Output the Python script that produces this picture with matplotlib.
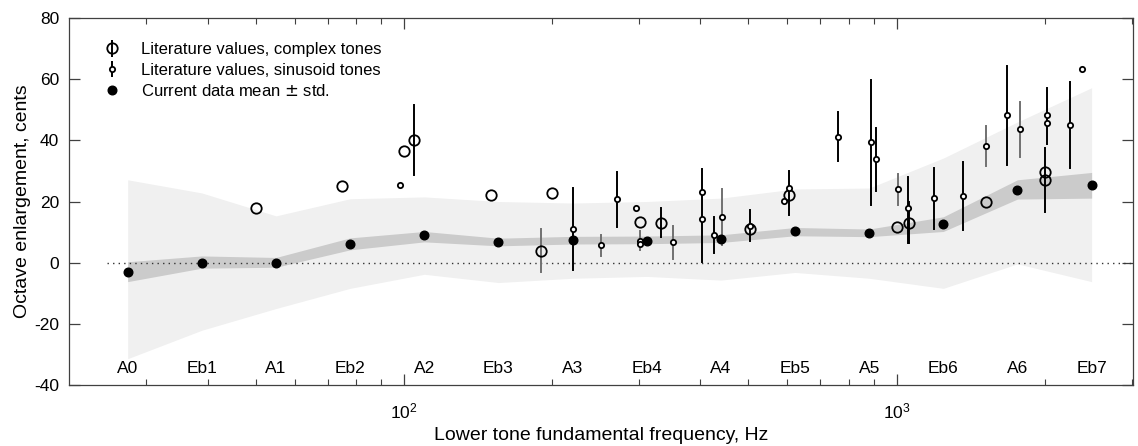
import numpy as np
import matplotlib.pyplot as plt
from matplotlib.ticker import LogLocator, NullFormatter, FixedLocator

plt.rcParams['font.family'] = ['Liberation Sans', 'DejaVu Sans']
plt.rcParams['axes.unicode_minus'] = False

# Note frequencies and current data (mean, std band, wider range band)
notes = ["A0", "Eb1", "A1", "Eb2", "A2", "Eb3", "A3", "Eb4", "A4", "Eb5", "A5", "Eb6", "A6", "Eb7"]
note_freq = [27.5, 38.89, 55.0, 77.78, 110.0, 155.56, 220.0, 311.13, 440.0, 622.25, 880.0, 1244.5, 1760.0, 2489.0]
mean_cents = [-3.0, 0.0, 0.0, 6.1, 9.0, 6.7, 7.4, 7.2, 7.8, 10.3, 9.8, 12.7, 23.8, 25.4]
std_hi = [0.3, 2.2, 1.7, 8.1, 10.2, 8.0, 8.6, 8.7, 9.1, 11.5, 11.0, 15.0, 27.1, 29.5]
std_lo = [-6.2, -1.8, -1.5, 4.2, 6.8, 5.5, 6.1, 6.2, 6.6, 8.8, 8.5, 10.2, 20.8, 21.1]
range_hi = [27.1, 22.8, 15.3, 20.9, 21.5, 20.0, 19.5, 20.0, 21.1, 24.1, 24.4, 34.2, 46.0, 57.2]
range_lo = [-31.4, -22.1, -15.0, -8.4, -3.8, -6.5, -5.1, -4.5, -5.7, -3.2, -5.1, -8.4, -0.4, -6.2]

# Literature values, complex tones: freq, value, error low, error high (nan = none), grey bar
cx_freq = [50, 75, 100, 105, 150, 190, 200, 301, 332, 503, 604, 1000, 1060, 1516, 2000, 2000]
cx_val = [18.0, 25.1, 36.4, 40.1, 22.2, 3.9, 22.7, 13.4, 13.0, 10.9, 22.0, 11.7, 13.0, 19.7, 29.7, 27.1]
cx_lo = [np.nan, np.nan, np.nan, 28.8, np.nan, -2.9, np.nan, np.nan, 8.3, 7.1, np.nan, np.nan, 6.4, np.nan, np.nan, 16.5]
cx_hi = [np.nan, np.nan, np.nan, 51.4, np.nan, 10.9, np.nan, np.nan, 17.8, 17.3, np.nan, np.nan, 19.7, np.nan, np.nan, 37.5]
cx_grey = [0, 0, 0, 0, 0, 1, 0, 0, 0, 0, 0, 0, 0, 0, 0, 0]

# Literature values, sinusoid tones
sn_freq = [98, 220, 251, 271, 296, 301, 301, 352, 402, 402, 427, 443, 503, 590, 604,
           762, 887, 907, 1008, 1057, 1191, 1363, 1516, 1677, 1778, 2023, 2023, 2253, 2380]
sn_val = [25.4, 11.0, 5.7, 20.7, 17.8, 7.2, 6.0, 6.7, 23.2, 14.3, 9.0, 14.9, 12.1, 20.1, 24.4,
          41.1, 39.3, 33.8, 24.2, 18.0, 21.1, 21.9, 38.3, 48.2, 43.6, 48.4, 45.8, 45.0, 63.2]
sn_lo = [np.nan, -2.4, 2.3, 11.5, np.nan, 4.2, np.nan, 1.1, 0.1, np.nan, 3.1, 5.8, np.nan, np.nan, 15.7,
         33.1, 18.9, 23.3, 18.9, 6.4, 10.9, 10.7, 31.7, 32.1, 34.7, 38.9, np.nan, 31.1, np.nan]
sn_hi = [np.nan, 24.4, 9.1, 29.8, np.nan, 10.2, np.nan, 12.1, 30.7, np.nan, 15.0, 24.1, np.nan, np.nan, 30.1,
         49.2, 59.7, 44.1, 29.1, 28.0, 30.9, 32.9, 44.7, 64.3, 52.5, 57.2, np.nan, 59.1, np.nan]
sn_grey = [0, 0, 1, 0, 0, 1, 1, 1, 0, 0, 0, 1, 0, 0, 0,
           0, 0, 0, 1, 0, 0, 0, 1, 0, 1, 0, 0, 0, 0]

fig = plt.figure(figsize=(11.38, 4.46), dpi=100)
ax = fig.add_axes([0.0606, 0.1368, 0.9350, 0.8228])
ax.set_xscale('log')

# bands
ax.fill_between(note_freq, range_lo, range_hi, color='#f0f0f0', lw=0, zorder=1)
ax.fill_between(note_freq, std_lo, std_hi, color='#cbcbcb', lw=0, zorder=2)
ax.plot([25, 3100], [0, 0], ls=(0, (1, 3)), color='#333333', lw=1, zorder=3)


def draw_errs(freq, lo, hi, grey):
    for f, l, h, g in zip(freq, lo, hi, grey):
        if not np.isnan(l):
            ax.plot([f, f], [l, h], color='#707070' if g else 'black', lw=1.4, zorder=4)


draw_errs(cx_freq, cx_lo, cx_hi, cx_grey)
draw_errs(sn_freq, sn_lo, sn_hi, sn_grey)

ax.plot(cx_freq, cx_val, 'o', ms=7.5, mfc='none', mec='black', mew=1.3, ls='none', zorder=5)
ax.plot(sn_freq, sn_val, 'o', ms=3.8, mfc='white', mec='black', mew=1.3, ls='none', zorder=6)
ax.plot(note_freq, mean_cents, 'o', ms=6.2, color='black', ls='none', zorder=7)

# legend handles
h1 = ax.errorbar([], [], yerr=[], fmt='o', ms=7.5, mfc='none', mec='black', mew=1.3,
                 ecolor='black', elinewidth=1.4)
h2 = ax.errorbar([], [], yerr=[], fmt='o', ms=3.8, mfc='white', mec='black', mew=1.3,
                 ecolor='black', elinewidth=1.4)
h3, = ax.plot([], [], 'o', ms=6.2, color='black', ls='none')
ax.legend([h1, h2, h3],
          ["Literature values, complex tones", "Literature values, sinusoid tones",
           r"Current data mean $\pm$ std."],
          loc='upper left', bbox_to_anchor=(0.017, 0.975), frameon=False, fontsize=12,
          handlelength=1.2, handletextpad=1.15, labelspacing=0.33)

for name, f in zip(notes, note_freq):
    ax.text(f, -34.5, name, ha='center', va='center', fontsize=12.5, zorder=8)

ax.set_xlim(20.9, 3020)
ax.set_ylim(-40, 80)
ax.yaxis.set_major_locator(FixedLocator([-40, -20, 0, 20, 40, 60, 80]))
ax.xaxis.set_major_locator(LogLocator(base=10))
ax.xaxis.set_minor_locator(LogLocator(base=10, subs=np.arange(2, 10)))
ax.xaxis.set_minor_formatter(NullFormatter())
ax.tick_params(which='both', direction='in', top=True, right=True, labelsize=12.5, color='#404040')
ax.tick_params(which='major', length=8, width=0.9)
ax.tick_params(which='minor', length=4, width=0.8)
ax.tick_params(axis='x', which='major', pad=12)
ax.tick_params(axis='y', which='major', pad=7)
for s in ax.spines.values():
    s.set_color('#404040')
    s.set_linewidth(0.9)

ax.set_xlabel("Lower tone fundamental frequency, Hz", fontsize=14, labelpad=4)
ax.set_ylabel("Octave enlargement, cents", fontsize=14, labelpad=2)

fig.savefig("out.png", dpi=100)
